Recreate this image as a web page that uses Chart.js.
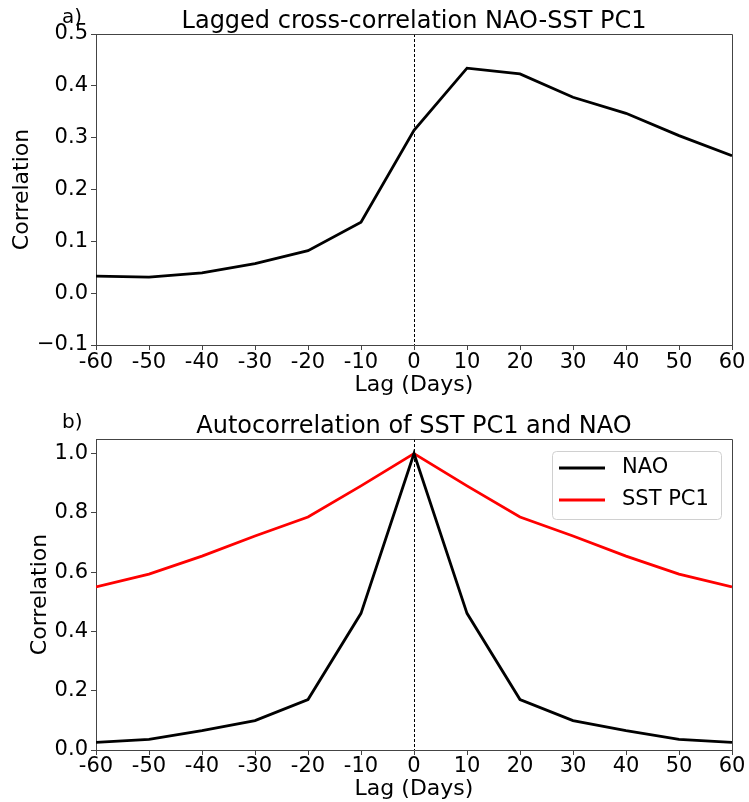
<!DOCTYPE html>
<html>
<head>
<meta charset="utf-8">
<script src="https://cdn.jsdelivr.net/npm/chart.js@4.4.1/dist/chart.umd.min.js"></script>
<style>
  html, body { margin: 0; padding: 0; background: #fff; }
  #wrap { position: relative; width: 749px; height: 802px; }
  canvas { position: absolute; left: 0; }
  #cTop { top: 0; }
  #cBot { top: 400px; }
</style>
</head>
<body>
<div id="wrap">
  <canvas id="cTop" width="749" height="400"></canvas>
  <canvas id="cBot" width="749" height="402"></canvas>
</div>
<script>
// lag in days
const lags = [-60, -50, -40, -30, -20, -10, 0, 10, 20, 30, 40, 50, 60];
const xTicks = [-60, -50, -40, -30, -20, -10, 0, 10, 20, 30, 40, 50, 60];

// a) lagged cross-correlation NAO-SST PC1
const crossCorr = [0.033, 0.031, 0.039, 0.057, 0.082, 0.137, 0.314, 0.434, 0.423, 0.378, 0.347, 0.304, 0.265];
const topYTicks = [-0.1, 0.0, 0.1, 0.2, 0.3, 0.4, 0.5];

// b) autocorrelations
const naoAuto = [0.026, 0.036, 0.065, 0.099, 0.170, 0.461, 1.0, 0.461, 0.170, 0.099, 0.065, 0.036, 0.026];
const sstAuto = [0.550, 0.593, 0.654, 0.722, 0.786, 0.891, 1.0, 0.891, 0.786, 0.722, 0.654, 0.593, 0.550];
const botYTicks = [0.0, 0.2, 0.4, 0.6, 0.8, 1.0];

const FONT = '"DejaVu Sans", sans-serif';
const AXIS_COL = "#444";

function points(vals) {
  return lags.map((x, i) => ({ x: x, y: vals[i] }));
}

// spines, zero line, title, panel letter, legend
const decorPlugin = {
  id: "decor",
  beforeDatasetsDraw(chart) {
    const { ctx, chartArea, scales } = chart;
    const x0 = Math.round(scales.x.getPixelForValue(0)) + 0.5;
    ctx.save();
    ctx.strokeStyle = "#000";
    ctx.lineWidth = 1;
    ctx.setLineDash([3, 2]);
    ctx.beginPath();
    ctx.moveTo(x0, chartArea.top);
    ctx.lineTo(x0, chartArea.bottom);
    ctx.stroke();
    ctx.restore();
  },
  afterDatasetsDraw(chart) {
    const { ctx, chartArea } = chart;
    ctx.save();
    ctx.strokeStyle = AXIS_COL;
    ctx.lineWidth = 1;
    ctx.beginPath();
    ctx.moveTo(chartArea.left, chartArea.top + 0.5);
    ctx.lineTo(chartArea.right + 0.5, chartArea.top + 0.5);
    ctx.lineTo(chartArea.right + 0.5, chartArea.bottom);
    ctx.stroke();
    ctx.restore();
  },
  afterDraw(chart, args, opts) {
    const { ctx, chartArea } = chart;
    ctx.save();
    ctx.fillStyle = "#000";
    ctx.textBaseline = "alphabetic";
    ctx.font = "24px " + FONT;
    ctx.textAlign = "center";
    ctx.fillText(opts.title, (chartArea.left + chartArea.right) / 2, chartArea.top - 6);
    ctx.font = "20px " + FONT;
    ctx.textAlign = "left";
    ctx.fillText(opts.panel, 62, chartArea.top - 11);

    if (opts.legend) {
      const bx = chartArea.right - 180, by = chartArea.top + 12, bw = 169, bh = 68;
      ctx.fillStyle = "rgba(255,255,255,0.8)";
      ctx.strokeStyle = "#d0d0d0";
      ctx.lineWidth = 1;
      ctx.beginPath();
      ctx.roundRect(bx + 0.5, by + 0.5, bw, bh, 4);
      ctx.fill();
      ctx.stroke();
      chart.data.datasets.forEach((ds, i) => {
        const ly = by + 17 + i * 32;
        ctx.strokeStyle = ds.borderColor;
        ctx.lineWidth = ds.borderWidth;
        ctx.beginPath();
        ctx.moveTo(bx + 7, ly);
        ctx.lineTo(bx + 53, ly);
        ctx.stroke();
        ctx.fillStyle = "#000";
        ctx.font = "21px " + FONT;
        ctx.textBaseline = "middle";
        ctx.fillText(ds.label, bx + 70, ly);
      });
    }
    ctx.restore();
  }
};

function makeChart(id, cfg) {
  return new Chart(document.getElementById(id), {
    type: "line",
    data: { datasets: cfg.datasets },
    plugins: [decorPlugin],
    options: {
      responsive: false,
      animation: false,
      layout: { padding: { top: cfg.padTop, right: 17, left: 0, bottom: 0 } },
      plugins: {
        legend: { display: false },
        tooltip: { enabled: false },
        decor: { title: cfg.title, panel: cfg.panel, legend: cfg.legend }
      },
      elements: { point: { radius: 0 }, line: { tension: 0 } },
      scales: {
        x: {
          type: "linear",
          min: -60,
          max: 60,
          afterBuildTicks: s => { s.ticks = xTicks.map(v => ({ value: v })); },
          afterFit: s => {
            s.height = cfg.xHeight;
            s.paddingLeft = 0; s.paddingRight = 0;
          },
          border: { display: true, color: AXIS_COL, width: 1 },
          grid: { drawOnChartArea: false, drawTicks: true, tickLength: 5, color: AXIS_COL },
          ticks: {
            color: "#000",
            font: { family: FONT, size: 21, lineHeight: 1 },
            padding: cfg.xTickPad,
            maxRotation: 0,
            autoSkip: false,
            callback: v => String(v)
          },
          title: {
            display: true,
            text: "Lag (Days)",
            color: "#000",
            font: { family: FONT, size: 22 },
            padding: { top: 0, bottom: cfg.xTitlePad }
          }
        },
        y: {
          min: cfg.yMin,
          max: cfg.yMax,
          afterBuildTicks: s => { s.ticks = cfg.yTicks.map(v => ({ value: v })); },
          afterFit: s => {
            s.width = 96;
            s.paddingTop = 0; s.paddingBottom = 0;
          },
          border: { display: true, color: AXIS_COL, width: 1 },
          grid: { drawOnChartArea: false, drawTicks: true, tickLength: 5, color: AXIS_COL },
          ticks: {
            color: "#000",
            font: { family: FONT, size: 21 },
            padding: 3,
            callback: v => (v < -1e-9 ? "\u2212" : "") + Math.abs(v).toFixed(1)
          },
          title: {
            display: true,
            text: "Correlation",
            color: "#000",
            font: { family: FONT, size: 22 },
            padding: { top: cfg.yTitlePad, bottom: 0 }
          }
        }
      }
    }
  });
}

makeChart("cTop", {
  title: "Lagged cross-correlation NAO-SST PC1",
  panel: "a)",
  legend: false,
  padTop: 34,
  xHeight: 55,
  xTickPad: 2,
  xTitlePad: 2,
  yTitlePad: 9,
  yMin: -0.1,
  yMax: 0.5,
  yTicks: topYTicks,
  datasets: [
    { label: "NAO-SST PC1", data: points(crossCorr), borderColor: "#000", borderWidth: 2.8 }
  ]
});

makeChart("cBot", {
  title: "Autocorrelation of SST PC1 and NAO",
  panel: "b)",
  legend: true,
  padTop: 39,
  xHeight: 52,
  xTickPad: 1,
  xTitlePad: 0,
  yTitlePad: 27,
  yMin: 0,
  yMax: 1.049,
  yTicks: botYTicks,
  datasets: [
    { label: "NAO", data: points(naoAuto), borderColor: "#000", borderWidth: 2.8 },
    { label: "SST PC1", data: points(sstAuto), borderColor: "#ff0000", borderWidth: 2.8 }
  ]
});
</script>
</body>
</html>
